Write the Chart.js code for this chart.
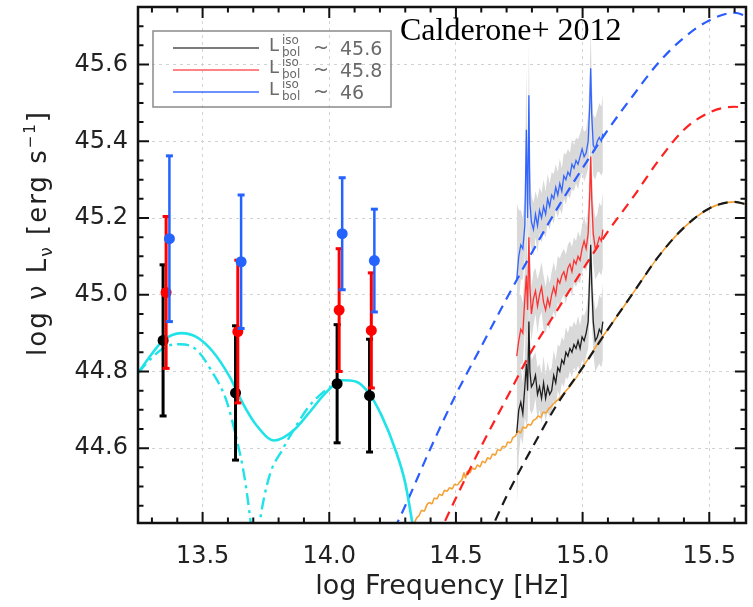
<!DOCTYPE html>
<html>
<head>
<meta charset="utf-8">
<script src="https://cdn.jsdelivr.net/npm/chart.js@4.4.0/dist/chart.umd.min.js"></script>
<style>
  html, body { margin: 0; padding: 0; background: #fff; }
</style>
</head>
<body>
<canvas id="sed" width="753" height="607"></canvas>
<script>
// axis ticks
const xTicks = [13.5, 14.0, 14.5, 15.0, 15.5];
const yTicks = [44.6, 44.8, 45.0, 45.2, 45.4, 45.6];

// photometry (log nu, log nuLnu, error) for the three cases
const photBlackX = [13.344, 13.630, 14.031, 14.159];
const photBlackY = [44.881, 44.744, 44.768, 44.737];
const photBlackErr = [0.197, 0.175, 0.154, 0.147];
const photRedX = [13.356, 13.639, 14.039, 14.166];
const photRedY = [45.006, 44.904, 44.960, 44.907];
const photRedErr = [0.198, 0.186, 0.160, 0.150];
const photBlueX = [13.369, 13.652, 14.051, 14.178];
const photBlueY = [45.146, 45.086, 45.159, 45.089];
const photBlueErr = [0.216, 0.174, 0.146, 0.134];

// torus model (cyan): solid and dash-dot
const cyanX = [13.245, 13.292, 13.344, 13.416, 13.475, 13.540, 13.606, 13.658, 13.711, 13.783, 13.855, 13.920, 13.986, 14.051, 14.104, 14.156, 14.208, 14.261, 14.300, 14.329, 14.350];
const cyanY = [44.796, 44.839, 44.881, 44.900, 44.890, 44.852, 44.787, 44.718, 44.661, 44.620, 44.644, 44.692, 44.744, 44.777, 44.774, 44.744, 44.683, 44.596, 44.509, 44.400, 44.310];
const cyanDashX = [13.245, 13.305, 13.357, 13.410, 13.475, 13.540, 13.593, 13.632, 13.665, 13.691, 13.707, 13.724, 13.763, 13.815, 13.868, 13.920, 13.973, 14.030];
const cyanDashY = [44.796, 44.839, 44.865, 44.871, 44.857, 44.796, 44.726, 44.630, 44.526, 44.400, 44.300, 44.400, 44.526, 44.596, 44.657, 44.709, 44.744, 44.770];

// accretion disc models (dashed)
const blueModelX = [14.2, 14.3, 14.4, 14.5, 14.6, 14.7, 14.8, 14.9, 15.0, 15.1, 15.2, 15.3, 15.4, 15.5, 15.6, 15.65];
const blueModelY = [44.31, 44.45, 44.60, 44.74, 44.865, 44.99, 45.11, 45.225, 45.33, 45.43, 45.52, 45.605, 45.67, 45.715, 45.735, 45.725];
const redModelX = [14.4, 14.5, 14.6, 14.7, 14.8, 14.9, 15.0, 15.1, 15.2, 15.3, 15.4, 15.5, 15.6, 15.65];
const redModelY = [44.33, 44.47, 44.605, 44.73, 44.855, 44.96, 45.065, 45.165, 45.255, 45.35, 45.43, 45.475, 45.49, 45.485];
const blackModelX = [14.6, 14.7, 14.8, 14.9, 15.0, 15.1, 15.2, 15.3, 15.4, 15.5, 15.6, 15.65];
const blackModelY = [44.33, 44.475, 44.60, 44.715, 44.81, 44.91, 45.005, 45.10, 45.175, 45.225, 45.242, 45.235];

// host + disc template (orange)
const orangeX = [14.333, 14.345, 14.355, 14.365, 14.375, 14.385, 14.395, 14.405, 14.415, 14.425, 14.435, 14.445, 14.455, 14.465, 14.475, 14.485, 14.495, 14.505, 14.515, 14.525, 14.532, 14.538, 14.545, 14.555, 14.565, 14.575, 14.585, 14.595, 14.605, 14.615, 14.625, 14.635, 14.645, 14.655, 14.665, 14.675, 14.685, 14.695, 14.705, 14.715, 14.725, 14.735, 14.745, 14.755, 14.765, 14.775, 14.785, 14.795, 14.805, 14.815, 14.825, 14.835, 14.845, 14.855, 14.865, 14.875, 14.885, 14.895, 14.905, 14.915, 14.925, 14.935, 14.945, 14.955, 14.965, 14.975, 14.985, 14.995, 15.005, 15.015, 15.025, 15.035, 15.045, 15.055, 15.065, 15.1, 15.2, 15.3, 15.4, 15.5, 15.6, 15.65];
const orangeY = [44.400, 44.418, 44.425, 44.438, 44.436, 44.452, 44.458, 44.455, 44.470, 44.468, 44.480, 44.477, 44.490, 44.488, 44.497, 44.494, 44.506, 44.504, 44.512, 44.520, 44.536, 44.522, 44.540, 44.536, 44.548, 44.545, 44.556, 44.552, 44.566, 44.562, 44.575, 44.572, 44.585, 44.582, 44.596, 44.594, 44.605, 44.603, 44.616, 44.614, 44.628, 44.632, 44.645, 44.640, 44.655, 44.652, 44.662, 44.660, 44.672, 44.676, 44.684, 44.680, 44.694, 44.692, 44.702, 44.708, 44.716, 44.722, 44.728, 44.735, 44.742, 44.750, 44.757, 44.765, 44.775, 44.784, 44.795, 44.806, 44.816, 44.826, 44.836, 44.846, 44.857, 44.867, 44.878, 44.91, 45.005, 45.10, 45.175, 45.225, 45.242, 45.235];

// optical spectra with their uncertainty band
const specX = [14.740, 14.748, 14.756, 14.764, 14.772, 14.778, 14.783, 14.788, 14.792, 14.798,
  14.806, 14.814, 14.822, 14.830, 14.838, 14.846, 14.854, 14.862, 14.870, 14.878,
  14.886, 14.894, 14.902, 14.910, 14.918, 14.926, 14.934, 14.942, 14.950, 14.958,
  14.966, 14.974, 14.982, 14.990, 14.998, 15.006, 15.014, 15.022, 15.028, 15.032,
  15.036, 15.042, 15.050, 15.058, 15.066, 15.074, 15.080];
const blackSpec = [44.64, 44.70, 44.72, 44.69, 44.76, 44.82, 44.75, 44.93, 44.80, 44.76,
  44.77, 44.79, 44.74, 44.76, 44.73, 44.77, 44.73, 44.76, 44.74, 44.75,
  44.79, 44.77, 44.81, 44.80, 44.83, 44.82, 44.85, 44.84, 44.86, 44.85,
  44.87, 44.86, 44.88, 44.86, 44.89, 44.88, 44.90, 44.93, 45.05, 45.13,
  45.03, 44.93, 44.88, 44.89, 44.91, 44.90, 44.93];
const redSpec = [44.84, 44.88, 44.91, 44.90, 44.99, 45.05, 44.96, 45.15, 45.02, 44.95,
  44.99, 45.01, 44.97, 45.00, 45.02, 44.98, 44.96, 44.99, 44.97, 45.00,
  45.02, 45.00, 45.04, 45.03, 45.05, 45.06, 45.04, 45.07, 45.08, 45.06,
  45.09, 45.08, 45.10, 45.09, 45.12, 45.14, 45.12, 45.16, 45.26, 45.36,
  45.25, 45.16, 45.12, 45.13, 45.15, 45.14, 45.17];
const blueSpec = [45.04, 45.10, 45.13, 45.12, 45.18, 45.43, 45.20, 45.52, 45.24, 45.19,
  45.17, 45.21, 45.18, 45.22, 45.20, 45.23, 45.21, 45.25, 45.23, 45.26,
  45.25, 45.28, 45.26, 45.29, 45.27, 45.31, 45.30, 45.32, 45.31, 45.34,
  45.33, 45.35, 45.34, 45.36, 45.38, 45.36, 45.37, 45.40, 45.49, 45.59,
  45.47, 45.39, 45.38, 45.40, 45.41, 45.40, 45.42];
const specErr = [0.20, 0.12, 0.09, 0.08, 0.08, 0.16, 0.08, 0.14, 0.10, 0.07,
  0.07, 0.06, 0.07, 0.06, 0.065, 0.07, 0.06, 0.065, 0.06, 0.06,
  0.065, 0.06, 0.06, 0.065, 0.06, 0.06, 0.065, 0.06, 0.06, 0.065,
  0.06, 0.06, 0.065, 0.06, 0.06, 0.065, 0.06, 0.07, 0.09, 0.10,
  0.09, 0.08, 0.08, 0.08, 0.09, 0.09, 0.10];

// legend
const legendValues = ['45.6', '45.8', '46'];
const legendColors = ['#505050', '#ff5a5a', '#3d6dff'];
const plotTitle = 'Calderone+ 2012';

const pts = (xs, ys) => xs.map((x, i) => ({ x: x, y: ys[i] }));
const errSegments = (xs, ys, es) => {
  const out = [];
  xs.forEach((x, i) => {
    out.push({ x: x, y: ys[i] - es[i] }, { x: x, y: ys[i] + es[i] }, { x: x, y: null });
  });
  return out;
};

const band = (ys, sign) => specX.map((x, i) => ({ x: x, y: ys[i] + sign * specErr[i] }));

const bandSet = (ys) => [
  { data: band(ys, -1), showLine: true, pointRadius: 0, borderWidth: 0, borderColor: 'rgba(0,0,0,0)', order: 20 },
  { data: band(ys, 1), showLine: true, pointRadius: 0, borderWidth: 0, borderColor: 'rgba(0,0,0,0)',
    backgroundColor: '#d9d9d9', fill: '-1', order: 20 }
];

const lineSet = (data, color, width, dash, order, smooth) => ({
  data: data, showLine: true, pointRadius: 0, borderColor: color, borderWidth: width,
  borderDash: dash, order: order, cubicInterpolationMode: smooth ? 'monotone' : 'default', tension: 0
});

const errSet = (xs, ys, es, color, width, order) => ({
  data: errSegments(xs, ys, es), showLine: true, spanGaps: false, borderColor: color, borderWidth: width,
  pointStyle: 'line', pointRadius: 3.5, pointBorderWidth: 3, pointBorderColor: color, order: order
});

const dotSet = (xs, ys, color, order) => ({
  data: pts(xs, ys), pointRadius: 5.5, pointBackgroundColor: color, pointBorderColor: color,
  pointBorderWidth: 0, order: order
});

const datasets = [
  ...bandSet(blackSpec),
  ...bandSet(redSpec),
  ...bandSet(blueSpec),
  lineSet(pts(orangeX, orangeY), '#f5a033', 1.6, [], 16, true),
  lineSet(pts(blueModelX, blueModelY), '#2a5cff', 2.2, [10, 7], 15, true),
  lineSet(pts(redModelX, redModelY), '#ff2020', 2.2, [10, 7], 15, true),
  lineSet(pts(blackModelX, blackModelY), '#1a1a1a', 2.2, [10, 7], 15, true),
  lineSet(pts(cyanX, cyanY), '#1fe3e8', 2.6, [], 14, true),
  lineSet(pts(cyanDashX, cyanDashY), '#1fe3e8', 2.4, [12, 5, 3, 5], 14, true),
  lineSet(pts(specX, blackSpec), '#1e1e1e', 1.3, [], 12, false),
  lineSet(pts(specX, redSpec), '#ff3030', 1.3, [], 12, false),
  lineSet(pts(specX, blueSpec), '#3366ff', 1.3, [], 12, false),
  errSet(photBlackX, photBlackY, photBlackErr, '#000000', 3, 8),
  dotSet(photBlackX, photBlackY, '#000000', 7),
  errSet(photRedX, photRedY, photRedErr, '#ff0000', 3, 6),
  dotSet(photRedX, photRedY, '#ff0000', 5),
  errSet(photBlueX, photBlueY, photBlueErr, '#2563ff', 2.5, 4),
  dotSet(photBlueX, photBlueY, '#2563ff', 3)
];

// frame with inward major/minor ticks on all four sides
const frameTicks = {
  id: 'frameTicks',
  afterDatasetsDraw(chart) {
    const { ctx, chartArea: a, scales: { x, y } } = chart;
    ctx.save();
    ctx.setLineDash([]);
    ctx.strokeStyle = '#111';
    ctx.lineWidth = 2;
    ctx.beginPath();
    for (let k = 133; k <= 156; k++) {
      const px = x.getPixelForValue(k / 10);
      const len = k % 5 === 0 ? 11 : 5.5;
      ctx.moveTo(px, a.bottom); ctx.lineTo(px, a.bottom - len);
      ctx.moveTo(px, a.top); ctx.lineTo(px, a.top + len);
    }
    for (let k = 889; k <= 915; k++) {
      const py = y.getPixelForValue(k / 20);
      const len = k % 4 === 0 ? 11 : 5.5;
      ctx.moveTo(a.left, py); ctx.lineTo(a.left + len, py);
      ctx.moveTo(a.right, py); ctx.lineTo(a.right - len, py);
    }
    ctx.stroke();
    ctx.lineWidth = 2.5;
    ctx.strokeRect(a.left, a.top, a.right - a.left, a.bottom - a.top);
    ctx.restore();
  }
};

// legend box, title and y-axis label with sub/superscripts
const overlayText = {
  id: 'overlayText',
  afterDraw(chart) {
    const { ctx, chartArea: a } = chart;
    ctx.save();
    // legend
    const bx = a.left + 15, by = a.top + 24;
    ctx.strokeStyle = '#8a8a8a';
    ctx.lineWidth = 1.5;
    ctx.strokeRect(bx, by, 238, 76);
    legendValues.forEach((v, i) => {
      const ry = by + 17 + i * 22;
      ctx.strokeStyle = legendColors[i];
      ctx.lineWidth = 1.5;
      ctx.beginPath();
      ctx.moveTo(bx + 20, ry); ctx.lineTo(bx + 106, ry);
      ctx.stroke();
      ctx.fillStyle = '#6a6a6a';
      ctx.textAlign = 'left';
      ctx.textBaseline = 'alphabetic';
      ctx.font = '18px "DejaVu Sans"';
      ctx.fillText('L', bx + 116, ry + 3);
      ctx.font = '12px "DejaVu Sans"';
      ctx.fillText('iso', bx + 129, ry - 4);
      ctx.fillText('bol', bx + 129, ry + 8);
      ctx.font = '19px "DejaVu Sans"';
      ctx.fillText('~', bx + 160, ry + 6);
      ctx.fillText(v, bx + 187, ry + 7);
    });
    // title
    ctx.fillStyle = '#000';
    ctx.font = '32px "Liberation Serif"';
    ctx.fillText(plotTitle, 400, 40);
    // y axis title
    ctx.translate(46, 233);
    ctx.rotate(-Math.PI / 2);
    ctx.fillStyle = '#222';
    if ('letterSpacing' in ctx) ctx.letterSpacing = '2px';
    const parts = [
      { t: 'log \u03bd L', f: 26, dy: 0 },
      { t: '\u03bd', f: 17, dy: 6 },
      { t: ' [erg s', f: 26, dy: 0 },
      { t: '\u22121', f: 15, dy: -11 },
      { t: ']', f: 26, dy: 0 }
    ];
    let total = 0;
    parts.forEach(p => { ctx.font = p.f + 'px "DejaVu Sans"'; p.w = ctx.measureText(p.t).width; total += p.w; });
    let cx = -total / 2;
    parts.forEach(p => { ctx.font = p.f + 'px "DejaVu Sans"'; ctx.fillText(p.t, cx, p.dy); cx += p.w; });
    ctx.restore();
  }
};

const noPad = s => { s.paddingTop = 0; s.paddingBottom = 0; s.paddingLeft = 0; s.paddingRight = 0; };

new Chart(document.getElementById('sed'), {
  type: 'scatter',
  data: { datasets: datasets },
  options: {
    responsive: false,
    animation: false,
    events: [],
    layout: { padding: { left: 0, right: 4, top: 7, bottom: 0 } },
    plugins: { legend: { display: false }, tooltip: { enabled: false } },
    scales: {
      x: {
        type: 'linear',
        min: 13.245,
        max: 15.645,
        afterBuildTicks: s => { s.ticks = xTicks.map(v => ({ value: v })); },
        afterFit: s => { s.height = 84; noPad(s); },
        ticks: {
          callback: v => Number(v).toFixed(1),
          font: { family: 'DejaVu Sans', size: 24 },
          color: '#222',
          padding: 19,
          maxRotation: 0,
          autoSkip: false
        },
        grid: { color: '#d2d2d2', lineWidth: 1, drawTicks: false },
        border: { display: false, dash: [3, 4] },
        title: {
          display: true,
          text: 'log Frequency [Hz]',
          font: { family: 'DejaVu Sans', size: 27 },
          color: '#222',
          padding: { top: 0, bottom: 4 }
        }
      },
      y: {
        type: 'linear',
        min: 44.405,
        max: 45.75,
        afterBuildTicks: s => { s.ticks = yTicks.map(v => ({ value: v })); },
        afterFit: s => { s.width = 138; noPad(s); },
        ticks: {
          callback: v => Number(v).toFixed(1),
          font: { family: 'DejaVu Sans', size: 24 },
          color: '#222',
          padding: 10
        },
        grid: { color: '#d2d2d2', lineWidth: 1, drawTicks: false },
        border: { display: false, dash: [3, 4] }
      }
    }
  },
  plugins: [frameTicks, overlayText]
});
</script>
</body>
</html>
